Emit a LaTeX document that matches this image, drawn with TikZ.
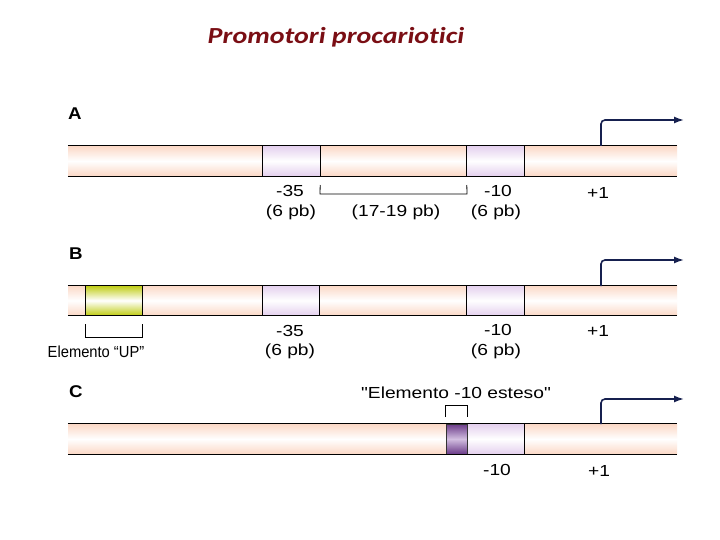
\documentclass[tikz,border=0pt]{standalone}
\usepackage{fontspec}
\setmainfont{Liberation Sans}
\newfontfamily\labfont[FakeStretch=1.2]{Liberation Sans}
\newfontfamily\upfont[FakeStretch=0.92]{Liberation Sans}
\newfontfamily\panelfont[FakeStretch=1.1]{Liberation Sans}
\newfontfamily\titlefont[FakeStretch=1.22,Ligatures={NoCommon,NoDiscretionary}]{Carlito}
\usetikzlibrary{arrows.meta}
\definecolor{peach}{HTML}{FBD8C6}
\definecolor{lav}{HTML}{E4D0EE}
\definecolor{upg}{HTML}{BFCC12}
\definecolor{dpur}{HTML}{6A3A88}
\definecolor{lpur}{HTML}{D2BEE0}
\definecolor{navy}{HTML}{16204F}
\definecolor{titlered}{HTML}{7A0E14}
\begin{document}
\begin{tikzpicture}[x=1pt,y=-1pt,
  strand/.style={draw=none,inner sep=0pt,minimum height=30pt,top color=peach,bottom color=peach,middle color=white},
  lavbox/.style={draw=none,inner sep=0pt,minimum height=30pt,minimum width=57pt,top color=lav,bottom color=lav,middle color=white},
  upbox/.style={draw=none,inner sep=0pt,minimum height=30pt,minimum width=56pt,top color=upg,bottom color=upg,middle color=white},
  extbox/.style={draw=black!80,line width=0.8pt,inner sep=0pt,minimum height=30pt,minimum width=21pt,top color=dpur,bottom color=dpur,middle color=lpur},
  edge/.style={line width=1.3pt,black},
  brk/.style={line width=0.8pt,black},
  tss/.style={navy,line width=1.6pt,rounded corners=4pt,-{Latex[length=10pt,width=7pt]}},
  lab/.style={inner sep=0pt,font=\labfont\fontsize{16}{19}\selectfont},
  panel/.style={inner sep=0pt,font=\panelfont\bfseries\fontsize{17}{20}\selectfont}
]
\useasboundingbox (0,0) rectangle (720,540);
\fill[white] (0,0) rectangle (720,540);

\node[inner sep=0pt,text=titlered,font=\titlefont\bfseries\itshape\fontsize{23}{27}\selectfont] (title) at (336,37) {Promotori procariotici};

% ---------- A ----------
\node[panel] (pA) at (75,114) {A};
\node[strand,minimum width=609pt] (sA) at (372.5,161) {};
\node[lavbox] (a35) at (291.5,161) {};
\node[lavbox] (a10) at (495.5,161) {};
\draw[edge] (sA.north west) -- (sA.north east);
\draw[edge] (sA.south west) -- (sA.south east);
\foreach \b in {a35,a10}{\draw[edge] (\b.north west) -- (\b.south west) (\b.north east) -- (\b.south east);}
\coordinate (tA) at (601,146);
\coordinate (eA) at (684,120);
\draw[tss] (tA) |- (eA);
\coordinate (bA1) at (320,194);
\coordinate (bA2) at (467,194);
\draw[brk] (a35.south east |- 0,185) -- (bA1) -- (bA2) -- (a10.south west |- 0,185);
\node[lab] (lA35) at (290,191) {-35};
\node[lab] (lA35b) at (291,212) {(6 pb)};
\node[lab] (lAsp) at (396,212) {(17-19 pb)};
\node[lab] (lA10) at (498,191) {-10};
\node[lab] (lA10b) at (496,212) {(6 pb)};
\node[lab] (lA1) at (598,193) {+1};

% ---------- B ----------
\node[panel] (pB) at (76,254) {B};
\node[strand,minimum width=609pt] (sB) at (372.5,300.5) {};
\node[upbox] (bup) at (114,300.5) {};
\node[lavbox] (b35) at (291,300.5) {};
\node[lavbox] (b10) at (495.5,300.5) {};
\draw[edge] (sB.north west) -- (sB.north east);
\draw[edge] (sB.south west) -- (sB.south east);
\foreach \b in {bup,b35,b10}{\draw[edge] (\b.north west) -- (\b.south west) (\b.north east) -- (\b.south east);}
\coordinate (tB) at (601,286);
\coordinate (eB) at (684,260);
\draw[tss] (tB) |- (eB);
\draw[brk] (bup.south west |- 0,324) -- (bup.south west |- 0,337) -- (bup.south east |- 0,337) -- (bup.south east |- 0,324);
\node[lab,font=\upfont\fontsize{16}{19}\selectfont] (lUP) at (96,352) {Elemento “UP”};
\node[lab] (lB35) at (290,331) {-35};
\node[lab] (lB35b) at (290,351) {(6 pb)};
\node[lab] (lB10) at (498,330) {-10};
\node[lab] (lB10b) at (496,351) {(6 pb)};
\node[lab] (lB1) at (598,331) {+1};

% ---------- C ----------
\node[panel] (pC) at (76,392) {C};
\node[strand,minimum width=609pt] (sC) at (372.5,439) {};
\node[lavbox] (c10) at (495.5,439) {};
\node[extbox] (cext) at (456.5,439) {};
\draw[edge] (sC.north west) -- (sC.north east);
\draw[edge] (sC.south west) -- (sC.south east);
\draw[edge] (c10.north east) -- (c10.south east);
\coordinate (tC) at (601,424);
\coordinate (eC) at (684,399);
\draw[tss] (tC) |- (eC);
\draw[brk] (cext.north west |- 0,417) -- (cext.north west |- 0,405) -- (cext.north east |- 0,405) -- (cext.north east |- 0,417);
\node[lab] (lext) at (456,393) {"Elemento -10 esteso"};
\node[lab] (lC10) at (497,470) {-10};
\node[lab] (lC1) at (599,471) {+1};
\end{tikzpicture}
\end{document}
